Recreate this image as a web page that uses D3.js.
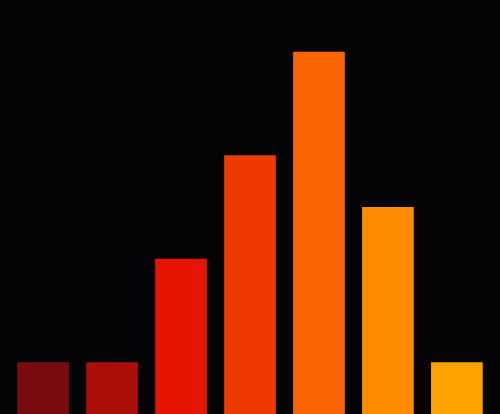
<!DOCTYPE html>
<html><head><meta charset="utf-8">
<script src="https://cdn.jsdelivr.net/npm/d3@7"></script>
<style>html,body{margin:0;padding:0;background:#040406;overflow:hidden}</style>
</head><body><svg id="c"></svg>
<script>
const categories = ["A","B","C","D","E","F","G"];
const values = [1,1,3,5,7,4,1];
const colors = ["#7a0b10","#ab0f0a","#e61400","#ed3b00","#fa6400","#ff8c00","#ffa200"];
const W = 500, H = 414;
const svg = d3.select("#c").attr("width", W).attr("height", H).style("display","block");
svg.append("rect").attr("width", W).attr("height", H).attr("fill", "#040406");
const x = d3.scaleBand().domain(categories).range([0, W]).padding(0.25);
const y = d3.scaleLinear().domain([0, 8]).range([H, 0]);
svg.selectAll(".bar").data(categories).join("rect")
  .attr("class","bar")
  .attr("x", d => x(d))
  .attr("width", x.bandwidth())
  .attr("y", (d,i) => y(values[i]))
  .attr("height", (d,i) => H - y(values[i]))
  .attr("fill", (d,i) => colors[i]);
</script></body></html>
